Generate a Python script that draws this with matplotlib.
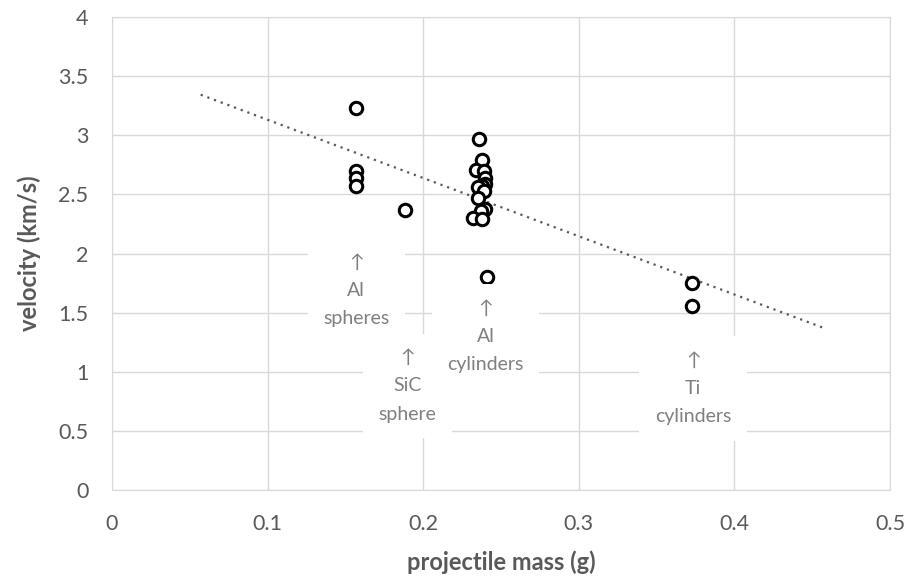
import numpy as np
import matplotlib.pyplot as plt

# projectile mass (g) and velocity (km/s) for each shot
sphere_mass = [0.157, 0.157, 0.157, 0.157]
sphere_vel = [3.23, 2.70, 2.64, 2.57]

sic_mass = [0.188]
sic_vel = [2.37]

cyl_mass = [0.236, 0.238, 0.234, 0.239, 0.240, 0.240, 0.238, 0.235,
            0.239, 0.235, 0.240, 0.237, 0.232, 0.238, 0.241]
cyl_vel = [2.97, 2.79, 2.71, 2.70, 2.64, 2.59, 2.57, 2.56,
           2.53, 2.47, 2.38, 2.36, 2.30, 2.29, 1.80]

ti_mass = [0.373, 0.373]
ti_vel = [1.75, 1.56]

# linear trend range (extended beyond the data)
trend_start, trend_end = 0.057, 0.457

labels = [
    (0.157, 1.69, "↑\nAl\nspheres"),
    (0.190, 0.88, "↑\nSiC\nsphere"),
    (0.240, 1.30, "↑\nAl\ncylinders"),
    (0.3735, 0.86, "↑\nTi\ncylinders"),
]

plt.rcParams['font.family'] = ['Lato', 'DejaVu Sans']

mass = np.array(sphere_mass + sic_mass + cyl_mass + ti_mass)
vel = np.array(sphere_vel + sic_vel + cyl_vel + ti_vel)
slope, icpt = np.polyfit(mass, vel, 1)

fig = plt.figure(figsize=(9.09, 5.77), dpi=100)
ax = fig.add_axes([0.1232, 0.1508, 0.8559, 0.8197])

tx = np.array([trend_start, trend_end])
ax.plot(tx, slope * tx + icpt, linestyle=(0, (1, 2.2)), color='#595959',
        linewidth=1.6, zorder=2)

ax.scatter(mass, vel, s=80, facecolors='white', edgecolors='black',
           linewidths=2.2, zorder=3)

for x, y, txt in labels:
    ax.text(x, y, txt, ha='center', va='center', fontsize=14,
            color='#7f7f7f', linespacing=1.8, zorder=4,
            bbox=dict(boxstyle='square,pad=0.8', facecolor='white',
                      edgecolor='none'))

ax.set_xlim(0, 0.5)
ax.set_ylim(0, 4)
ax.set_xticks(np.arange(0, 0.51, 0.1))
ax.set_xticklabels(['0', '0.1', '0.2', '0.3', '0.4', '0.5'])
ax.set_yticks(np.arange(0, 4.01, 0.5))
ax.set_yticklabels(['0', '0.5', '1', '1.5', '2', '2.5', '3', '3.5', '4'])
ax.grid(True, color='#d9d9d9', linewidth=1)
ax.set_axisbelow(True)
for sp in ax.spines.values():
    sp.set_color('#d9d9d9')
ax.tick_params(length=0, labelsize=15.5, colors='#595959')
ax.tick_params(axis='x', pad=17)
ax.tick_params(axis='y', pad=17)

ax.set_xlabel('projectile mass (g)', fontsize=17, fontweight='bold',
              color='#595959', labelpad=12)
ax.set_ylabel('velocity (km/s)', fontsize=17, fontweight='bold',
              color='#595959', labelpad=12)

fig.savefig('out.png', dpi=100)
